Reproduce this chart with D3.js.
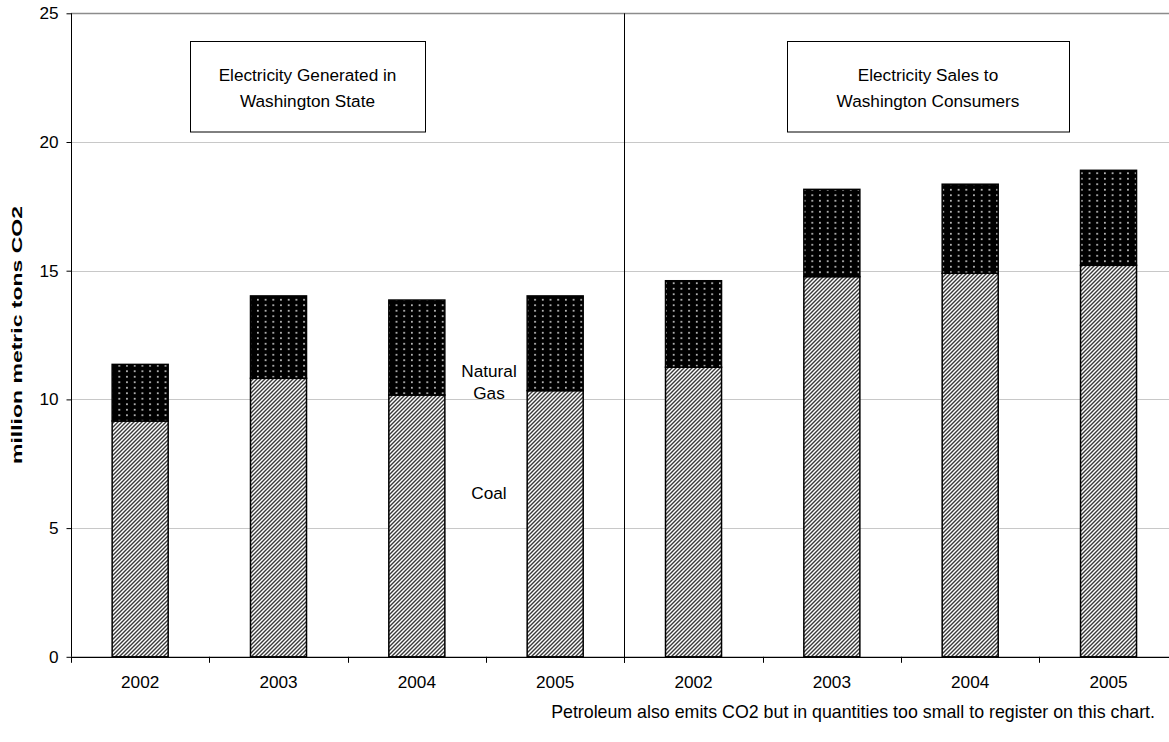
<!DOCTYPE html>
<html>
<head>
<meta charset="utf-8">
<script src="https://cdn.jsdelivr.net/npm/d3@7"></script>
<style>
  html, body { margin: 0; padding: 0; background: #fff; }
  svg { display: block; font-family: "Liberation Sans", Arial, sans-serif; }
</style>
</head>
<body>
<svg id="chart" width="1169" height="742"></svg>
<script>
// Two panels: in-state generation and sales to consumers, by year
const groups = ["Electricity Generated in\nWashington State", "Electricity Sales to\nWashington Consumers"];
const years = ["2002", "2003", "2004", "2005"];
// million metric tons CO2
const coalGenerated = [9.16, 10.82, 10.17, 10.34];
const gasGenerated  = [2.20, 3.20, 3.69, 3.68];
const coalSales     = [11.25, 14.77, 14.90, 15.21];
const gasSales      = [3.36, 3.39, 3.46, 3.69];
const yTicks = [0, 5, 10, 15, 20, 25];

const rows = [];
years.forEach((yr, i) => rows.push({ key: "g" + yr, year: yr, coal: coalGenerated[i], gas: gasGenerated[i] }));
years.forEach((yr, i) => rows.push({ key: "s" + yr, year: yr, coal: coalSales[i], gas: gasSales[i] }));

const svg = d3.select("#chart");
const plotL = 71, plotR = 1177.7, plotT = 13.3, plotB = 656.8;
const FS = 17.2;

const x = d3.scaleBand().domain(rows.map(d => d.key)).range([plotL, plotR])
  .paddingInner(0.595).paddingOuter(0.2975);
const y = d3.scaleLinear().domain([0, 25]).range([plotB, plotT]);

// fill patterns
const defs = svg.append("defs");
const hatch = defs.append("pattern").attr("id", "hatch")
  .attr("patternUnits", "userSpaceOnUse").attr("width", 4).attr("height", 4);
hatch.append("rect").attr("width", 4).attr("height", 4).attr("fill", "#fff");
hatch.append("path").attr("d", "M-1,1 L1,-1 M0,4 L4,0 M3,5 L5,3")
  .attr("stroke", "#3a3a3a").attr("stroke-width", 1.4);

const dots = defs.append("pattern").attr("id", "dots")
  .attr("patternUnits", "userSpaceOnUse").attr("width", 7.7).attr("height", 5.5);
dots.append("rect").attr("width", 7.7).attr("height", 5.5).attr("fill", "#000");
dots.append("circle").attr("cx", 3.8).attr("cy", 2.7).attr("r", 0.95).attr("fill", "#e2e2e2");

// gridlines
svg.append("g").selectAll("line").data(yTicks.filter(t => t > 0)).join("line")
  .attr("x1", plotL).attr("x2", plotR)
  .attr("y1", d => Math.round(y(d)) + 0.5).attr("y2", d => Math.round(y(d)) + 0.5)
  .attr("stroke", d => d === 25 ? "#8c8c8c" : "#c8c8c8").attr("stroke-width", d => d === 25 ? 1.5 : 1);

// divider between panels
const midX = Math.round(plotL + 4 * x.step());
svg.append("line").attr("x1", midX + 0.5).attr("x2", midX + 0.5)
  .attr("y1", plotT).attr("y2", plotB + 6).attr("stroke", "#000").attr("stroke-width", 1);

// bars
const barG = svg.append("g");
rows.forEach(d => {
  barG.append("rect").attr("x", x(d.key)).attr("width", x.bandwidth())
    .attr("y", y(d.coal)).attr("height", y(0) - y(d.coal))
    .attr("fill", "url(#hatch)").attr("stroke", "#000").attr("stroke-width", 1.5);
  barG.append("rect").attr("x", x(d.key)).attr("width", x.bandwidth())
    .attr("y", y(d.coal + d.gas)).attr("height", y(d.coal) - y(d.coal + d.gas))
    .attr("fill", "url(#dots)").attr("stroke", "#000").attr("stroke-width", 1.5);
});

// y axis
const yAxis = svg.append("g").attr("transform", `translate(${plotL + 0.5},0)`)
  .call(d3.axisLeft(y).tickValues(yTicks).tickSize(5).tickPadding(8));
yAxis.select(".domain").attr("stroke", "#000").attr("d", `M0,${plotT}V${plotB}`);
yAxis.selectAll(".tick line").attr("stroke", "#000");
yAxis.selectAll("text").attr("font-size", FS).attr("fill", "#000")
  .attr("font-family", "Liberation Sans, Arial, sans-serif");

// x axis: ticks at category boundaries, labels centered under bars
const xg = svg.append("g");
xg.append("line").attr("x1", plotL).attr("x2", plotR)
  .attr("y1", plotB + 0.5).attr("y2", plotB + 0.5).attr("stroke", "#000").attr("stroke-width", 1.2);
d3.range(9).forEach(i => {
  const bx = Math.round(plotL + i * x.step()) + 0.5;
  xg.append("line").attr("x1", bx).attr("x2", bx).attr("y1", plotB).attr("y2", plotB + 6)
    .attr("stroke", "#000");
});
xg.selectAll("text").data(rows).join("text")
  .attr("x", d => x(d.key) + x.bandwidth() / 2).attr("y", 688)
  .attr("text-anchor", "middle").attr("font-size", FS).attr("fill", "#000")
  .text(d => d.year);

// y axis title
svg.append("text").attr("transform", "translate(22,335) rotate(-90)")
  .attr("text-anchor", "middle").attr("font-size", 14).attr("font-weight", "bold")
  .attr("textLength", 258).attr("lengthAdjust", "spacingAndGlyphs")
  .text("million metric tons CO2");

// panel titles
const boxes = [{ x0: 190, x1: 425 }, { x0: 787, x1: 1069 }];
groups.forEach((g, i) => {
  const b = boxes[i];
  svg.append("rect").attr("x", b.x0 + 0.5).attr("y", 41.5).attr("width", b.x1 - b.x0).attr("height", 90.5)
    .attr("fill", "#fff").attr("stroke", "#000").attr("stroke-width", 1);
  const t = svg.append("text").attr("text-anchor", "middle").attr("font-size", FS).attr("fill", "#000");
  g.split("\n").forEach((line, j) => {
    t.append("tspan").attr("x", (b.x0 + b.x1) / 2).attr("y", 81 + j * 26).text(line);
  });
});

// series labels
const ng = svg.append("text").attr("text-anchor", "middle").attr("font-size", FS);
ng.append("tspan").attr("x", 489).attr("y", 377).text("Natural");
ng.append("tspan").attr("x", 489).attr("y", 399).text("Gas");
svg.append("text").attr("x", 489).attr("y", 499).attr("text-anchor", "middle")
  .attr("font-size", FS).text("Coal");

// footnote
svg.append("text").attr("x", 1155).attr("y", 718).attr("text-anchor", "end")
  .attr("font-size", 17.8).text("Petroleum also emits CO2 but in quantities too small to register on this chart.");
</script>
</body>
</html>
